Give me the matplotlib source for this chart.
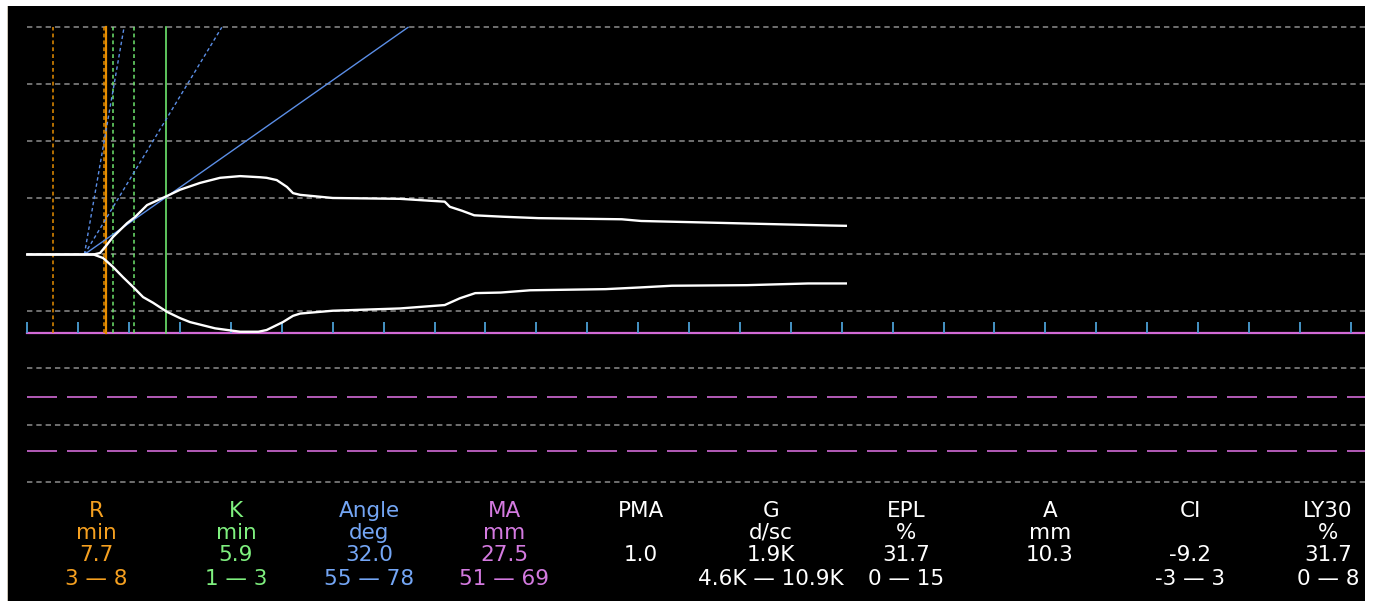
import matplotlib.pyplot as plt
from matplotlib.patches import Rectangle

# ======================
# DATA (time in minutes, half amplitude in mm)
# ======================
time_upper = [0, 6.5, 7.14, 7.63, 8.42, 9.79, 10.58, 11.76, 13.72, 15.0, 16.96, 18.93,
              20.9, 22.86, 23.5, 24.5, 25.5, 26.1, 26.8, 30.0, 36.6, 41.0, 41.5, 42.7,
              43.9, 46.7, 50.2, 58.4, 60.3, 65.0, 71.9, 78.9, 80.4]
amp_upper = [0, 0, 0.26, 1.3, 3.1, 5.5, 6.6, 8.7, 10.3, 11.4, 12.6, 13.5,
             13.8, 13.6, 13.5, 13.1, 11.9, 10.8, 10.5, 9.95, 9.8, 9.3, 8.4, 7.7,
             6.9, 6.65, 6.4, 6.2, 5.9, 5.7, 5.4, 5.1, 5.05]

time_lower = [0, 6.5, 7.44, 8.42, 9.4, 10.38, 11.37, 12.35, 13.72, 15.0, 15.98, 18.44,
              20.9, 22.7, 23.5, 25.1, 26.1, 26.8, 30.0, 36.6, 41.0, 42.5, 44.0, 46.5,
              49.4, 56.8, 60.2, 63.3, 70.7, 76.7, 80.4]
amp_lower = [0, 0, -0.62, -2.2, -4.0, -5.7, -7.5, -8.5, -10.1, -11.2, -11.9, -13.0,
             -13.6, -13.6, -13.3, -11.9, -10.8, -10.4, -9.9, -9.5, -8.9, -7.7, -6.8, -6.7,
             -6.3, -6.1, -5.8, -5.5, -5.4, -5.1, -5.1]

r_time = 7.7
rk_time = 13.6
r_norm_lines = [2.5, 7.5]
k_norm_lines = [8.4, 10.5]
angle_start = 5.6
angle_top = 40
angle_measured_end = 37.4
angle_norm_ends = [9.5, 19.1]

params = ["R", "K", "Angle", "MA", "PMA", "G", "EPL", "A", "CI", "LY30"]
units = ["min", "min", "deg", "mm", "", "d/sc", "%", "mm", "", "%"]
values = ["7.7", "5.9", "32.0", "27.5", "1.0", "1.9K", "31.7", "10.3", "-9.2", "31.7"]
ranges = ["3 — 8", "1 — 3", "55 — 78", "51 — 69", "", "4.6K — 10.9K", "0 — 15",
          "", "-3 — 3", "0 — 8"]

ORANGE = "#e88e00"
GREEN = "#6ee66e"
BLUE = "#5b8ee6"
MAGENTA = "#d26ad6"
GRAY = "#8e8e8e"
TICK = "#4b9fd4"
text_colors = ["#f5a020", "#7ff07f", "#74a6f5", "#d47ae0",
               "white", "white", "white", "white", "white", "white"]

W, H = 1376, 601
fig = plt.figure(figsize=(W / 100, H / 100), dpi=100, facecolor="white")


def fx(px):
    return px / W


def fy(py):
    return 1 - py / H


# black screen + thin left border
fig.patches.append(Rectangle((fx(8), 0), fx(1365 - 8), fy(6), transform=fig.transFigure,
                             facecolor="black", edgecolor="none", zorder=-10))
fig.patches.append(Rectangle((fx(6.5), 0), fx(1.2), fy(6), transform=fig.transFigure,
                             facecolor="#c8c2b4", edgecolor="none", zorder=-10))

# ======================
# TRACE PANEL
# ======================
ax = fig.add_axes([fx(8), fy(336), fx(1365 - 8), (336 - 6) / H])
ax.set_facecolor("none")
ax.set_xlim(-1.9, 131.4)
ax.set_ylim(-14.35, 43.75)
ax.axis("off")

xmax = 131.4
for g in [-10, 0, 10, 20, 30, 40]:
    ax.plot([0, xmax], [g, g], color=GRAY, lw=1.1, dashes=(3.5, 2.6))

base = -13.8
ax.plot([0, xmax], [base, base], color=MAGENTA, lw=1.6)
ax.vlines(range(0, 131, 5), base, -11.9, color=TICK, lw=1.3)

for t in r_norm_lines:
    ax.plot([t, t], [base, 40], color=ORANGE, lw=1.1, dashes=(2.5, 2))
ax.plot([r_time, r_time], [base, 40], color=ORANGE, lw=1.6)
for t in k_norm_lines:
    ax.plot([t, t], [base, 40], color=GREEN, lw=1.1, dashes=(2.5, 2))
ax.plot([rk_time, rk_time], [base, 40], color=GREEN, lw=1.2)

for t in angle_norm_ends:
    ax.plot([angle_start, t], [0, angle_top], color=BLUE, lw=1.0, dashes=(2.5, 2))
ax.plot([angle_start, angle_measured_end], [0, angle_top], color=BLUE, lw=1.0)

ax.plot(time_upper, amp_upper, color="white", lw=1.7, zorder=5)
ax.plot(time_lower, amp_lower, color="white", lw=1.7, zorder=5)

# ======================
# LOWER PANEL
# ======================
ax2 = fig.add_axes([fx(8), 0, fx(1365 - 8), (601 - 336) / H])
ax2.set_facecolor("none")
ax2.set_xlim(-1.9, 131.4)
ax2.set_ylim(-4.175, 5.123)
ax2.axis("off")
for g in [0, 2, 4]:
    ax2.plot([0, xmax], [g, g], color=GRAY, lw=1.1, dashes=(3.5, 2.6))
for g in [1.1, 3.0]:
    ax2.plot([0, xmax], [g, g], color=MAGENTA, lw=1.2, dashes=(18, 6))

# ======================
# RESULT TABLE
# ======================
col_x = [96, 236, 369, 504, 641, 771, 906, 1050, 1190, 1328]
row_y = [517, 539, 561, 585]
for i, name in enumerate(params):
    for row, txt in zip(row_y, [name, units[i], values[i], ranges[i]]):
        if txt:
            fig.text(fx(col_x[i]), fy(row), txt, color=text_colors[i], ha="center",
                     va="baseline", fontsize=15.5, family="DejaVu Sans")

fig.savefig("out.png", dpi=100, facecolor=fig.get_facecolor())
